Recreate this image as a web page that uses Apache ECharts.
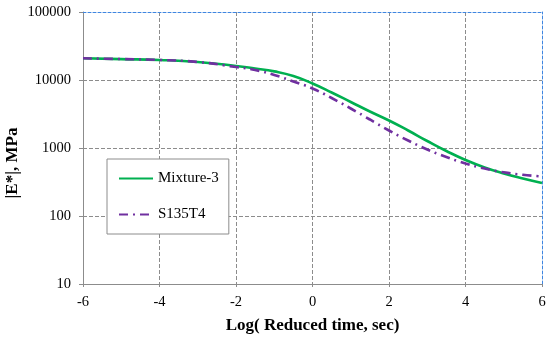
<!DOCTYPE html>
<html>
<head>
<meta charset="utf-8">
<script src="https://cdn.jsdelivr.net/npm/echarts@6/dist/echarts.min.js"></script>
<style>
html,body{margin:0;padding:0;background:#fff;}
#chart{width:550px;height:339px;}
</style>
</head>
<body>
<div id="chart"></div>
<script>
var logTime = [-6, -5, -4, -3, -2, -1.5, -1, -0.5, 0, 0.5, 1, 1.5, 2, 2.5, 3, 3.5, 4, 4.5, 5, 5.5, 6];
var mixture3 = [20840, 20300, 19700, 18400, 16100, 14750, 13400, 11460, 8880, 6550, 4750, 3440, 2537, 1809, 1267, 903, 666, 517, 422, 356, 306];
var s135t4 = [20840, 20300, 19700, 18400, 15530, 14030, 11850, 9506, 7500, 5437, 3810, 2625, 1809, 1289, 950, 737, 592, 499, 439, 404, 381];
var seriesNames = ['Mixture-3', 'S135T4'];
var xTitle = 'Log( Reduced time, sec)';
var yTitle = '|E*|, MPa';

var FONT = "'Liberation Serif', 'Times New Roman', serif";
function pairs(xs, ys) { return xs.map(function (x, i) { return [x, ys[i]]; }); }

var chart = echarts.init(document.getElementById('chart'), null, {renderer: 'canvas'});
chart.setOption({
  animation: false,
  backgroundColor: '#fff',
  grid: {left: 83, right: 8, top: 12, bottom: 55, containLabel: false},
  xAxis: [{
    type: 'value', min: -6, max: 6, interval: 2,
    axisLine: {show: true, onZero: false, lineStyle: {color: '#8c8c8c', width: 1}},
    axisTick: {show: true, length: 3, lineStyle: {color: '#8c8c8c'}},
    axisLabel: {margin: 11, color: '#000', fontFamily: FONT, fontSize: 14.5},
    splitLine: {show: true, showMinLine: false, showMaxLine: false, lineStyle: {color: '#8c8c8c', type: [4, 2], width: 1}},
    name: xTitle, nameLocation: 'middle', nameGap: 33,
    nameTextStyle: {color: '#000', fontFamily: FONT, fontSize: 17, fontWeight: 'bold'}
  }, {
    type: 'value', min: -6, max: 6, position: 'top',
    axisLine: {show: true, onZero: false, lineStyle: {color: '#3f86e0', type: [3, 2], width: 1}},
    axisTick: {show: false}, axisLabel: {show: false}, splitLine: {show: false}
  }],
  yAxis: [{
    type: 'log', logBase: 10, min: 10, max: 100000,
    axisLine: {show: true, onZero: false, lineStyle: {color: '#8c8c8c', width: 1}},
    axisTick: {show: true, length: 4, lineStyle: {color: '#8c8c8c'}},
    axisLabel: {margin: 12, color: '#000', fontFamily: FONT, fontSize: 14.5,
      formatter: function (v) { return String(Math.round(v)); }},
    splitLine: {show: true, showMinLine: false, showMaxLine: false, lineStyle: {color: '#8c8c8c', type: [4, 2], width: 1}},
    minorTick: {show: false}
  }, {
    type: 'log', logBase: 10, min: 10, max: 100000, position: 'right',
    axisLine: {show: true, onZero: false, lineStyle: {color: '#3f86e0', type: [3, 2], width: 1}},
    axisTick: {show: false}, axisLabel: {show: false}, splitLine: {show: false}
  }],
  legend: {
    orient: 'vertical', left: 107, top: 159,
    padding: [12, 10, 12, 11],
    itemWidth: 34, itemHeight: 14, itemGap: 21, itemTextGap: 3,
    itemStyle: {opacity: 0},
    backgroundColor: '#fff', borderColor: '#8c8c8c', borderWidth: 1,
    textStyle: {color: '#000', fontFamily: FONT, fontSize: 15},
    data: seriesNames
  },
  graphic: [{
    type: 'text', x: 13, y: 163, rotation: Math.PI / 2,
    style: {text: yTitle, fill: '#000', font: "bold 17px " + FONT, align: 'center', verticalAlign: 'middle'}
  }],
  series: [{
    name: seriesNames[0], type: 'line', smooth: 0.5, symbol: 'none', showSymbol: false,
    data: pairs(logTime, mixture3), z: 3,
    lineStyle: {color: '#00b050', width: 2.6},
    itemStyle: {color: '#00b050'}
  }, {
    name: seriesNames[1], type: 'line', smooth: 0.5, symbol: 'none', showSymbol: false,
    data: pairs(logTime, s135t4), z: 4,
    lineStyle: {color: '#7030a0', width: 2.6, type: [9, 5, 2, 5]},
    itemStyle: {color: '#7030a0'}
  }]
});
</script>
</body>
</html>
